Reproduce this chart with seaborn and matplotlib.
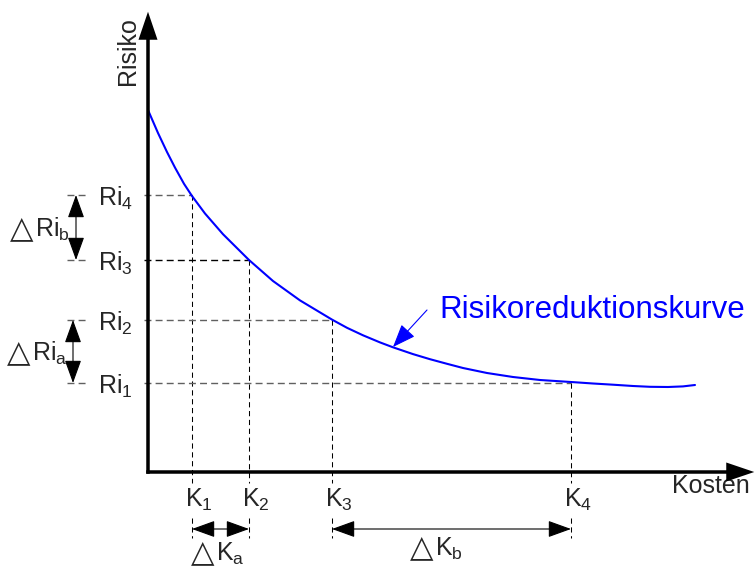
import matplotlib
matplotlib.use('Agg')
import matplotlib.pyplot as plt
import seaborn as sns
import pandas as pd

# Diagram units: 1 unit = 1 pixel, origin where the two axes meet
kosten = [44, 101, 184, 423]          # K1..K4
risiko = [89, 152, 212, 277]          # Ri1..Ri4
k_labels = ['K$_\\mathregular{1}$', 'K$_\\mathregular{2}$', 'K$_\\mathregular{3}$', 'K$_\\mathregular{4}$']
ri_labels = ['Ri$_\\mathregular{1}$', 'Ri$_\\mathregular{2}$', 'Ri$_\\mathregular{3}$', 'Ri$_\\mathregular{4}$']

# Risikoreduktionskurve
curve_x = [0, 10, 19, 27, 36, 44, 57, 75, 101, 125, 152, 184, 199, 215, 232, 245,
           265, 282, 299, 315, 339, 365, 392, 423, 445, 465, 485, 502, 520, 535, 547]
curve_y = [362, 339, 320, 304.4, 288.2, 276, 258.5, 237.8, 212, 191, 171.6, 152.4,
           144.2, 136.7, 129.6, 124.7, 117.9, 112.8, 108.2, 104, 99, 95, 92, 90,
           88.5, 87.3, 86, 85.2, 85, 85.6, 87]

sns.set_style('white')
plt.rcParams['font.family'] = ['Liberation Sans', 'DejaVu Sans']
plt.rcParams['mathtext.fontset'] = 'custom'
plt.rcParams['mathtext.rm'] = 'Liberation Sans'

fig = plt.figure(figsize=(7.56, 5.67), dpi=100)
ax = fig.add_axes([0, 0, 1, 1])
ax.set_xlim(-148, 608)
ax.set_ylim(-95, 472)
ax.axis('off')

# axes with arrow heads
ax.arrow(0, -1.75, 0, 462, width=3.5, head_width=19, head_length=28,
         length_includes_head=True, fc='black', ec='none', zorder=5)
ax.arrow(-1.75, 0, 608, 0, width=3.5, head_width=19, head_length=28,
         length_includes_head=True, fc='black', ec='none', zorder=5)

# curve
df = pd.DataFrame({'Kosten': curve_x, 'Risiko': curve_y})
sns.lineplot(data=df, x='Kosten', y='Risiko', sort=False, color='#0000ff',
             linewidth=1.5, ax=ax, zorder=4)

# dashed guide lines (Ri4<->K1, Ri3<->K2, Ri2<->K3, Ri1<->K4)
for i, (k, r) in enumerate(zip(kosten, risiko[::-1])):
    hcol = 'black' if i == 1 else '#606060'
    ax.plot([-81, -61], [r, r], color='#606060', lw=1.0, dashes=(5, 3))
    ax.plot([-4, k], [r, r], color=hcol, lw=1.0, dashes=(5, 3))
    ax.plot([k, k], [r, -11], color='black', lw=0.75, dashes=(5, 3.5))
    ax.plot([k, k], [-46, -66], color='black', lw=0.75, dashes=(5, 3.5))

fs = 18
for r, lab in zip(risiko, ri_labels):
    ax.text(-50, r - 11, lab, fontsize=fs, ha='left', va='baseline')
for k, lab in zip(kosten, k_labels):
    ax.text(k - 7, -35, lab, fontsize=fs, ha='left', va='baseline')

# delta arrows
head = 'head_length=0.72,head_width=0.26'
for x0, y0, x1, y1 in [(-72, risiko[2], -72, risiko[3]),
                       (-75, risiko[0], -75, risiko[1]),
                       (kosten[0], -57, kosten[1], -57),
                       (kosten[2], -57, kosten[3], -57)]:
    ax.annotate('', xy=(x1, y1), xytext=(x0, y0),
                arrowprops=dict(arrowstyle='<|-|>,' + head, mutation_scale=20,
                                shrinkA=0, shrinkB=0, lw=0.8, color='black'))

# delta labels: triangle sign + symbol with subscript
for x, y, lab in [(-136, 235, 'Ri$_\\mathregular{b}$'),
                  (-139, 111, 'Ri$_\\mathregular{a}$'),
                  (45, -89, 'K$_\\mathregular{a}$'),
                  (264, -84, 'K$_\\mathregular{b}$')]:
    ax.text(x - 2, y, '△', fontsize=22, family='DejaVu Sans', ha='left', va='baseline')
    ax.text(x + 23, y, lab, fontsize=fs, ha='left', va='baseline')

ax.text(524, -21, 'Kosten', fontsize=fs, ha='left', va='baseline')
ax.text(-13, 387, 'Risiko', fontsize=fs, rotation=90, rotation_mode='anchor',
        ha='left', va='baseline')

ax.annotate('', xy=(245, 125), xytext=(279, 162),
            arrowprops=dict(arrowstyle='-|>,head_length=0.72,head_width=0.28',
                            mutation_scale=20, shrinkA=0, shrinkB=0,
                            lw=0.8, color='#0000ff'))
ax.text(291, 154, 'Risikoreduktionskurve', fontsize=22.5, color='#0000ff',
        ha='left', va='baseline')

fig.savefig('out.png', dpi=100)
plt.close(fig)
